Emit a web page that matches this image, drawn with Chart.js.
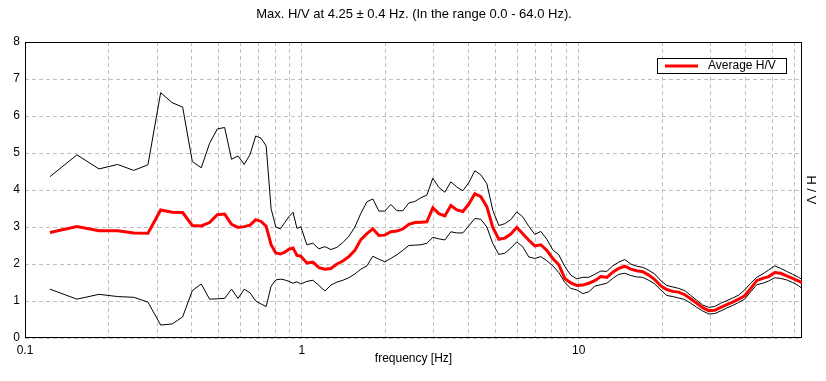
<!DOCTYPE html>
<html><head><meta charset="utf-8">
<script src="https://cdn.jsdelivr.net/npm/chart.js@4.4.0/dist/chart.umd.min.js"></script>
<style>html,body{margin:0;padding:0;background:#fff}#wrap{width:826px;height:381px}</style>
</head><body><div id="wrap"><canvas id="c" width="826" height="381"></canvas></div>
<script>
const titleText = 'Max. H/V at 4.25 \u00b1 0.4 Hz. (In the range 0.0 - 64.0 Hz).';
const xTitle = 'frequency [Hz]';
const yTitle = 'H / V';
const legendLabel = 'Average H/V';

const freq = [0.123,0.154,0.185,0.216,0.247,0.278,0.309,0.340,0.371,0.402,0.433,0.464,0.495,0.526,0.557,0.588,0.619,0.650,0.681,0.712,0.743,0.774,0.805,0.836,0.867,0.898,0.929,0.960,0.991,
1.042,1.096,1.152,1.211,1.273,1.338,1.406,1.478,1.554,1.633,1.717,1.804,1.897,1.993,2.095,2.203,2.315,2.434,2.558,2.689,2.827,2.971,3.123,3.283,3.451,3.627,3.813,4.008,4.213,4.428,4.655,4.893,5.143,5.406,5.683,5.973,6.279,6.600,6.937,7.292,7.665,8.057,8.469,8.902,9.357,9.835,10.34,10.87,11.42,12.01,12.62,13.27,13.94,14.66,15.41,16.19,17.02,17.89,18.81,19.77,20.78,21.85,22.96,24.14,25.37,26.67,28.03,29.47,30.97,32.56,34.22,35.97,37.81,39.74,41.78,43.91,46.16,48.52,51.00,53.61,56.35,59.23,62.26,64.0];

const upper = [4.36,4.95,4.57,4.69,4.53,4.68,6.63,6.36,6.24,4.77,4.60,5.26,5.65,5.69,4.83,4.92,4.69,4.96,5.46,5.40,5.19,3.50,3.00,2.95,3.12,3.28,3.40,2.96,3.01,
2.52,2.56,2.41,2.47,2.39,2.45,2.58,2.75,3.00,3.37,3.68,3.76,3.43,3.43,3.61,3.44,3.44,3.65,3.69,3.79,3.86,4.32,4.07,3.94,4.22,4.08,3.98,4.20,4.52,4.41,4.17,3.45,3.04,3.09,3.20,3.41,3.27,3.02,2.80,2.88,2.67,2.38,2.25,1.93,1.70,1.60,1.64,1.64,1.72,1.81,1.80,1.95,2.05,2.12,2.00,1.94,1.91,1.83,1.73,1.55,1.42,1.38,1.34,1.28,1.15,1.02,0.89,0.83,0.85,0.94,1.01,1.08,1.16,1.30,1.48,1.64,1.73,1.84,1.95,1.88,1.80,1.72,1.64,1.58];

const average = [2.85,3.01,2.90,2.90,2.84,2.83,3.46,3.40,3.39,3.04,3.03,3.12,3.33,3.35,3.07,2.99,3.01,3.05,3.20,3.15,3.02,2.52,2.30,2.27,2.32,2.40,2.43,2.23,2.21,
2.03,2.05,1.90,1.86,1.88,2.00,2.08,2.20,2.37,2.66,2.82,2.95,2.77,2.78,2.87,2.89,2.95,3.07,3.12,3.13,3.14,3.52,3.36,3.30,3.58,3.46,3.42,3.62,3.90,3.82,3.55,2.99,2.67,2.70,2.81,2.99,2.82,2.64,2.49,2.52,2.37,2.15,1.98,1.61,1.49,1.42,1.43,1.48,1.55,1.66,1.64,1.78,1.88,1.94,1.86,1.82,1.79,1.70,1.58,1.41,1.31,1.26,1.24,1.17,1.06,0.94,0.82,0.74,0.75,0.83,0.90,0.97,1.05,1.14,1.34,1.55,1.61,1.66,1.77,1.75,1.68,1.61,1.54,1.49];

const lower = [1.32,1.05,1.18,1.12,1.10,0.97,0.35,0.38,0.57,1.28,1.46,1.05,1.06,1.07,1.32,1.07,1.32,1.22,1.00,0.92,0.85,1.40,1.57,1.59,1.57,1.53,1.48,1.52,1.46,
1.53,1.56,1.42,1.27,1.43,1.51,1.56,1.63,1.73,1.86,1.95,2.21,2.13,2.06,2.15,2.25,2.37,2.50,2.51,2.52,2.56,2.72,2.68,2.65,2.87,2.84,2.84,3.03,3.23,3.21,3.00,2.55,2.26,2.29,2.43,2.60,2.46,2.19,2.15,2.20,2.09,1.95,1.77,1.50,1.34,1.30,1.20,1.25,1.40,1.44,1.48,1.61,1.72,1.75,1.69,1.65,1.64,1.56,1.46,1.30,1.15,1.12,1.08,1.04,0.94,0.83,0.73,0.65,0.66,0.73,0.81,0.88,0.96,1.05,1.25,1.44,1.48,1.54,1.63,1.61,1.57,1.50,1.41,1.34];

const xGridValues = [0.1,0.2,0.3,0.4,0.5,0.6,0.7,0.8,0.9,1,2,3,4,5,6,7,8,9,10,20,30,40,50,60];
const xLabelValues = [0.1,1,10];
const xMin = 0.1, xMax = 64, yMin = 0, yMax = 8, yStep = 1;

const FONT = '"Liberation Sans", Arial, sans-serif';
const pts = arr => freq.map((f,i)=>({x:f,y:arr[i]}));

const decor = {
  id:'decor',
  beforeDatasetsDraw(chart){
    const {ctx, chartArea:a} = chart;
    ctx.save();
    ctx.setLineDash([]);
    ctx.strokeStyle = '#000'; ctx.lineWidth = 1;
    const l = Math.round(a.left)+0.5, t = Math.round(a.top)+0.5, r = Math.round(a.right)-0.5, b = Math.round(a.bottom)-0.5;
    ctx.strokeRect(l, t, r-l, b-t);
    ctx.restore();
  },
  afterDraw(chart){
    const {ctx, chartArea:a} = chart;
    ctx.save();
    ctx.setLineDash([]);
    ctx.fillStyle = '#000';
    ctx.textAlign = 'center'; ctx.textBaseline = 'middle';
    ctx.font = '13px ' + FONT;
    ctx.fillText(titleText, 414, 14);
    ctx.font = '12px ' + FONT;
    ctx.fillText(xTitle, (a.left+a.right)/2, 359);
    ctx.save();
    ctx.translate(811, (a.top+a.bottom)/2);
    ctx.rotate(Math.PI/2);
    ctx.font = '13px ' + FONT;
    ctx.fillText(yTitle, 0, 0);
    ctx.restore();
    // legend box
    ctx.fillStyle = '#fff';
    ctx.fillRect(657, 58, 130, 15);
    ctx.strokeStyle = '#000'; ctx.lineWidth = 1;
    ctx.strokeRect(657.5, 58.5, 129, 15);
    ctx.strokeStyle = '#ff0000'; ctx.lineWidth = 3;
    ctx.beginPath(); ctx.moveTo(665, 66); ctx.lineTo(698, 66); ctx.stroke();
    ctx.fillStyle = '#000'; ctx.textAlign = 'left';
    ctx.font = '12px ' + FONT;
    ctx.fillText(legendLabel, 708, 66);
    ctx.restore();
  }
};

new Chart(document.getElementById('c'), {
  type:'line',
  data:{datasets:[
    {label:legendLabel, data:pts(average), borderColor:'#ff0000', borderWidth:3, pointRadius:0, tension:0, order:0, fill:false},
    {label:'upper', data:pts(upper), borderColor:'#000', borderWidth:1, pointRadius:0, tension:0, order:1, fill:false},
    {label:'lower', data:pts(lower), borderColor:'#000', borderWidth:1, pointRadius:0, tension:0, order:1, fill:false}
  ]},
  options:{
    responsive:false, animation:false, devicePixelRatio:1,
    layout:{padding:{top:42, right:24, left:0, bottom:0}},
    plugins:{legend:{display:false}, title:{display:false}, tooltip:{enabled:false}},
    scales:{
      x:{type:'logarithmic', min:xMin, max:xMax,
        afterBuildTicks:s=>{ s.ticks = xGridValues.map(v=>({value:v})); },
        afterFit:s=>{ s.height = 43; },
        ticks:{autoSkip:false, maxRotation:0, minRotation:0, padding:5, color:'#000', font:{family:FONT, size:12},
          callback:(v)=> xLabelValues.some(q=>Math.abs(q-v)<1e-9) ? String(v) : ''},
        grid:{color:'#c0c0c0', drawTicks:false, lineWidth:1},
        border:{display:false, dash:[4,3]}
      },
      y:{type:'linear', min:yMin, max:yMax,
        afterFit:s=>{ s.width = 25; },
        ticks:{stepSize:yStep, padding:5, color:'#000', font:{family:FONT, size:12}},
        grid:{color:'#c0c0c0', drawTicks:false, lineWidth:1},
        border:{display:false, dash:[4,3]}
      }
    }
  },
  plugins:[decor]
});
</script></body></html>
